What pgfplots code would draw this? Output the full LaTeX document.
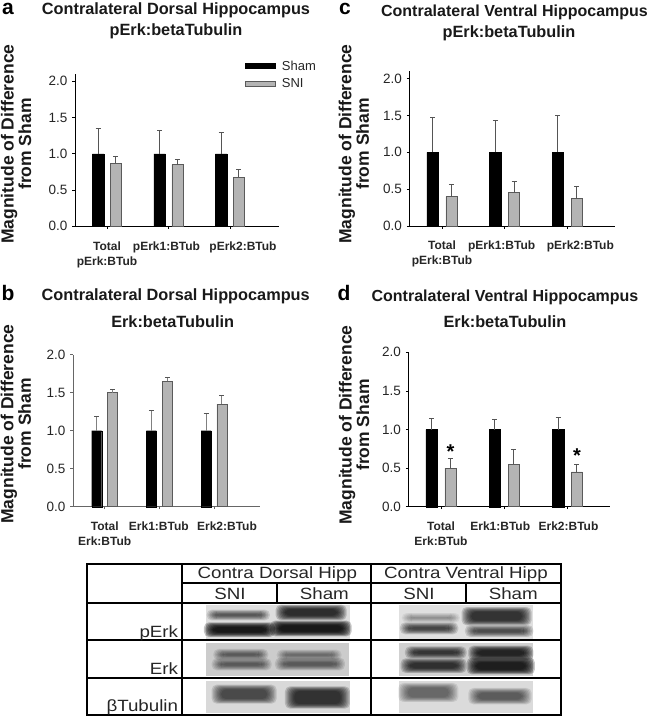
\documentclass[border=0pt]{standalone}
\usepackage{fontspec}
\setmainfont{Liberation Sans}
\usepackage{pgfplots}
\pgfplotsset{compat=1.18}

\definecolor{snigrey}{HTML}{B4B4B4}
\definecolor{edgegrey}{HTML}{5A5A5A}
\definecolor{errgrey}{HTML}{555555}

\newcommand{\fs}[1]{\fontsize{#1}{#1}\selectfont}

\pgfplotsset{
  panel/.style={
    scale only axis,
    anchor=south west,
    clip=false,
    axis lines=left,
    axis line style={-,draw=black,line width=0.9pt},
    tick style={draw=black,line width=0.7pt},
    tick align=outside,
    major tick length=2.5pt,
    ymin=0,
    ytick={0,0.5,1,1.5,2},
    xtick={0,1,2},
    yticklabel style={font=\fs{13.5},text=black!85,xshift=-1.5pt},
    xticklabel style={font=\bfseries\fontsize{12}{15}\selectfont,align=center,yshift=-9pt,text=black!85},
    /pgf/number format/.cd,fixed,fixed zerofill,precision=1,assume math mode=true,
    /pgfplots/.cd,
    ylabel={Magnitude of Difference\\from Sham},
    ylabel style={font=\bfseries\fs{17.5},align=center,anchor=center,text=black!90},
  },
  errs/.style={
    error bars/.cd,y dir=plus,y explicit,
    error bar style={draw=errgrey,line width=1pt},
    error mark options={rotate=90,draw=errgrey,mark size=2.5pt,line width=0.8pt},
    /pgfplots/.cd},
  sham/.style={ybar,bar width=11.5pt,bar shift=0pt,fill=black,draw=black,errs},
  sni/.style={ybar,bar width=11pt,bar shift=0pt,fill=snigrey,draw=edgegrey,line width=0.8pt,errs},
}

% one blurred blot band, nested fills
\newcommand{\band}[5]{%
  \pgfmathsetmacro{\op}{#5*0.55}%
  \foreach \k in {-2,...,5} {
    \fill[black,opacity=\op,rounded corners=5pt]
      ({#1+\k*4},{#3+\k*2}) rectangle ({#2-\k*4},{#4-\k*2});
  }}

\begin{document}
\begin{tikzpicture}
\path[use as bounding box] (0pt,0pt) rectangle (648pt,-720pt);

% panel a
\begin{axis}[panel,at={(75pt,-226.3pt)},width=204pt,height=152.25pt,
    xmin=-0.52,xmax=2.797,ymax=2.1,
    xticklabels={Total\\pErk:BTub,\hspace*{-4pt}pErk1:BTub,\hspace*{26pt}pErk2:BTub},
    ylabel style={at={(axis description cs:-0.289,0.54)}},
    legend style={at={(0.833,1.102)},anchor=north west,draw=none,fill=none,
      inner sep=0pt,font=\fs{13},row sep=2.5pt,text=black!85},
    legend cell align=left,
    legend image code/.code={\draw[#1] (0pt,-2.5pt) rectangle (30pt,2.5pt);\path (34pt,0pt);},
  ]
  \addplot[sham] coordinates {(-0.146,1) +- (0,0.35) (0.854,1) +- (0,0.32) (1.854,1) +- (0,0.30)};
  \addplot[sni] coordinates {(0.146,0.87) +- (0,0.10) (1.146,0.85) +- (0,0.07) (2.146,0.68) +- (0,0.10)};
  \legend{Sham,SNI}
\end{axis}

% panel b
\begin{axis}[panel,at={(73pt,-506.7pt)},width=187pt,height=152pt,
    xmin=-0.58,xmax=2.842,ymax=2,
    xticklabels={Total\\Erk:BTub,\hspace*{-1pt}Erk1:BTub,\hspace*{26pt}Erk2:BTub},
    ylabel style={at={(axis description cs:-0.305,0.544)}},
    axis line style={-,draw=black!60,line width=0.9pt},
    tick style={draw=black!60,line width=0.7pt},
  ]
  \addplot[sham,bar width=10pt,error bars/error bar style={draw=black!50}] coordinates {(-0.146,1) +- (0,0.19) (0.854,1) +- (0,0.27) (1.854,1) +- (0,0.23)};
  \addplot[sni,bar width=10pt,error bars/error bar style={draw=black!50}] coordinates {(0.146,1.5) +- (0,0.04) (1.146,1.65) +- (0,0.05) (2.146,1.35) +- (0,0.11)};
\end{axis}

% panel c
\begin{axis}[panel,at={(409.3pt,-226pt)},width=205.7pt,height=154.8pt,
    xmin=-0.522,xmax=2.761,ymax=2.1,
    xticklabels={Total\\pErk:BTub,\hspace*{-6pt}pErk1:BTub,\hspace*{26pt}pErk2:BTub},
    ylabel style={at={(axis description cs:-0.269,0.53)}},
  ]
  \addplot[sham] coordinates {(-0.15,1) +- (0,0.47) (0.85,1) +- (0,0.43) (1.85,1) +- (0,0.50)};
  \addplot[sni] coordinates {(0.15,0.40) +- (0,0.17) (1.15,0.45) +- (0,0.15) (2.15,0.37) +- (0,0.17)};
\end{axis}

% panel d
\begin{axis}[panel,at={(408.3pt,-506.7pt)},width=201.7pt,height=154.4pt,
    xmin=-0.517,xmax=2.672,ymax=2,
    xticklabels={Total\\Erk:BTub,\hspace*{-8pt}Erk1:BTub,\hspace*{2pt}Erk2:BTub},
    ylabel style={at={(axis description cs:-0.269,0.529)}},
  ]
  \addplot[sham] coordinates {(-0.149,1) +- (0,0.14) (0.851,1) +- (0,0.13) (1.851,1) +- (0,0.16)};
  \addplot[sni] coordinates {(0.149,0.50) +- (0,0.12) (1.149,0.55) +- (0,0.19) (2.149,0.45) +- (0,0.10)};
  \node[font=\bfseries\fs{20},inner sep=0pt] at (axis cs:0.149,0.72) {*};
  \node[font=\bfseries\fs{20},inner sep=0pt] at (axis cs:2.149,0.66) {*};
\end{axis}

\begin{scope}[x=1pt,y=-1pt]
% titles and panel letters
\tikzset{ttl/.style={font=\bfseries\fs{16.3},text=black!90,inner sep=0pt},
         ttlv/.style={ttl,font=\bfseries\fs{16}},
         let/.style={font=\bfseries\fs{21},inner sep=0pt}}
\node[ttl] at (176,10) {Contralateral Dorsal Hippocampus};
\node[ttl] at (176,31) {pErk:betaTubulin};
\node[ttl] at (175.7,296) {Contralateral Dorsal Hippocampus};
\node[ttl] at (172.7,321.3) {Erk:betaTubulin};
\node[ttlv] at (514.5,12.3) {Contralateral Ventral Hippocampus};
\node[ttl] at (509,33.3) {pErk:betaTubulin};
\node[ttlv] at (505,297.3) {Contralateral Ventral Hippocampus};
\node[ttl] at (505,321.3) {Erk:betaTubulin};
\node[let] at (8,8.5) {a};
\node[let] at (8,292.7) {b};
\node[let] at (345,8.5) {c};
\node[let] at (344,292.7) {d};
\end{scope}

% western blot panel, zoom coordinates (3 units per pixel)
\begin{scope}[shift={(80pt,-555pt)},x=0.3333pt,y=-0.3333pt]
  \fill[black!13] (378,150) rectangle (810,252);
  \fill[black!12] (957,150) rectangle (1360,252);
  \fill[black!20] (378,263) rectangle (806,362);
  \fill[black!18] (957,263) rectangle (1360,362);
  \fill[black!15] (378,378) rectangle (810,474);
  \fill[black!14] (957,378) rectangle (1360,474);

  \band{388}{562}{168}{192}{0.20}
  \band{595}{792}{153}{192}{0.32}
  \band{380}{577}{206}{242}{0.42}
  \band{578}{807}{201}{240}{0.42}
  \band{973}{1132}{178}{199}{0.10}
  \band{1153}{1347}{160}{207}{0.30}
  \band{968}{1127}{206}{234}{0.24}
  \band{1163}{1352}{214}{242}{0.22}

  \band{408}{557}{286}{312}{0.17}
  \band{598}{777}{288}{312}{0.14}
  \band{403}{567}{314}{342}{0.17}
  \band{593}{787}{312}{342}{0.17}
  \band{983}{1152}{278}{307}{0.28}
  \band{1173}{1352}{276}{312}{0.36}
  \band{970}{1152}{314}{350}{0.30}
  \band{1168}{1357}{312}{354}{0.38}

  \band{403}{582}{393}{442}{0.22}
  \band{623}{802}{398}{457}{0.30}
  \band{963}{1127}{388}{437}{0.16}
  \band{1173}{1347}{403}{444}{0.18}

  % table rules
  \tikzset{rule/.style={black,line width=1.8pt}}
  \draw[rule] (22,26) rectangle (1442,480);
  \draw[rule] (305,26) -- (305,480);
  \draw[rule] (873,26) -- (873,480);
  \draw[rule] (590,85) -- (590,143);
  \draw[rule] (1157,85) -- (1157,143);
  \draw[rule] (305,85) -- (1442,85);
  \draw[rule] (22,143) -- (1442,143);
  \draw[rule] (22,255) -- (1442,255);
  \draw[rule] (22,370) -- (1442,370);

  \tikzset{blot/.style={font=\fs{16.3},xscale=1.15,text=black!85,inner sep=0pt},
           row/.style={blot,anchor=base east}}
  \node[blot] at (592,58) {Contra Dorsal Hipp};
  \node[blot] at (1158,58) {Contra Ventral Hipp};
  \node[blot] at (450,116) {SNI};
  \node[blot] at (733,116) {Sham};
  \node[blot] at (1017,116) {SNI};
  \node[blot] at (1300,116) {Sham};
  \node[row] at (295,247) {pErk};
  \node[row] at (295,360) {Erk};
  \node[row] at (295,470) {βTubulin};
\end{scope}
\end{tikzpicture}
\end{document}
